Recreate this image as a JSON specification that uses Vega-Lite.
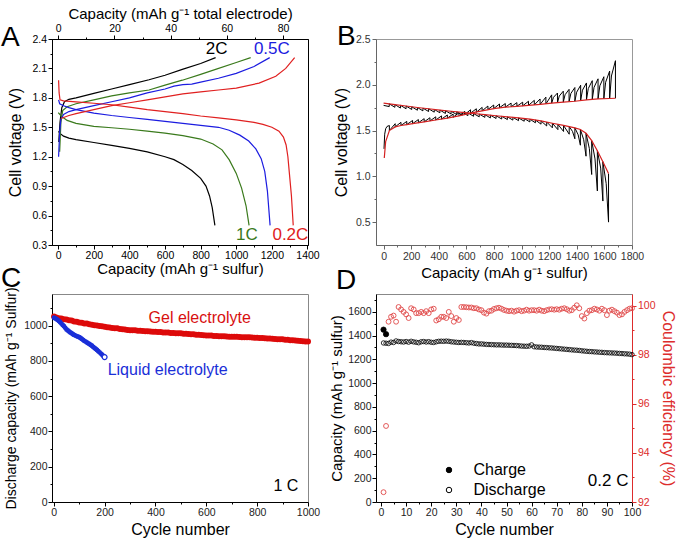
{
"$schema": "https://vega.github.io/schema/vega-lite/v6.json",
"background": "white",
"padding": {"left": 0, "top": 5, "right": 0, "bottom": 0},
"columns": 2,
"spacing": {"row": 49, "column": 68},
"bounds": "flush",
"resolve": {"scale": {"color": "independent", "size": "independent", "fill": "independent"}},
"config": {
 "font": "Liberation Sans",
 "view": {"stroke": null},
 "axis": {"grid": false, "labelFont": "Liberation Sans", "titleFont": "Liberation Sans", "labelFontSize": 10.5, "titleFontSize": 16, "titleFontWeight": "normal", "labelColor": "#000", "titleColor": "#000", "domainColor": "#000", "tickColor": "#000", "tickSize": 4, "labelPadding": 1.5, "labelFlush": false, "labelOverlap": false},
 "title": {"font": "Liberation Sans", "fontSize": 28, "fontWeight": "normal", "anchor": "start", "frame": "group", "offset": 0, "color": "#000"},
 "text": {"font": "Liberation Sans"}
},
"datasets": {
 "a": [
  {"series":"2C-d","rate":"2C","cap":2,"v":1.46},{"series":"2C-d","rate":"2C","cap":8,"v":1.44},{"series":"2C-d","rate":"2C","cap":30,"v":1.41},{"series":"2C-d","rate":"2C","cap":60,"v":1.39},{"series":"2C-d","rate":"2C","cap":100,"v":1.375},{"series":"2C-d","rate":"2C","cap":200,"v":1.345},{"series":"2C-d","rate":"2C","cap":300,"v":1.315},{"series":"2C-d","rate":"2C","cap":400,"v":1.285},{"series":"2C-d","rate":"2C","cap":500,"v":1.25},{"series":"2C-d","rate":"2C","cap":600,"v":1.2},{"series":"2C-d","rate":"2C","cap":650,"v":1.17},{"series":"2C-d","rate":"2C","cap":700,"v":1.12},{"series":"2C-d","rate":"2C","cap":750,"v":1.06},{"series":"2C-d","rate":"2C","cap":800,"v":0.98},{"series":"2C-d","rate":"2C","cap":830,"v":0.9},{"series":"2C-d","rate":"2C","cap":850,"v":0.8},{"series":"2C-d","rate":"2C","cap":865,"v":0.68},{"series":"2C-d","rate":"2C","cap":880,"v":0.5},
  {"series":"2C-c","rate":"2C","cap":3,"v":1.35},{"series":"2C-c","rate":"2C","cap":10,"v":1.55},{"series":"2C-c","rate":"2C","cap":20,"v":1.7},{"series":"2C-c","rate":"2C","cap":35,"v":1.76},{"series":"2C-c","rate":"2C","cap":60,"v":1.785},{"series":"2C-c","rate":"2C","cap":100,"v":1.8},{"series":"2C-c","rate":"2C","cap":200,"v":1.845},{"series":"2C-c","rate":"2C","cap":300,"v":1.89},{"series":"2C-c","rate":"2C","cap":400,"v":1.935},{"series":"2C-c","rate":"2C","cap":510,"v":1.985},{"series":"2C-c","rate":"2C","cap":600,"v":2.03},{"series":"2C-c","rate":"2C","cap":697,"v":2.09},{"series":"2C-c","rate":"2C","cap":800,"v":2.15},{"series":"2C-c","rate":"2C","cap":884,"v":2.21},
  {"series":"1C-d","rate":"1C","cap":0,"v":1.65},{"series":"1C-d","rate":"1C","cap":20,"v":1.61},{"series":"1C-d","rate":"1C","cap":50,"v":1.57},{"series":"1C-d","rate":"1C","cap":100,"v":1.54},{"series":"1C-d","rate":"1C","cap":200,"v":1.51},{"series":"1C-d","rate":"1C","cap":300,"v":1.495},{"series":"1C-d","rate":"1C","cap":400,"v":1.48},{"series":"1C-d","rate":"1C","cap":500,"v":1.46},{"series":"1C-d","rate":"1C","cap":600,"v":1.44},{"series":"1C-d","rate":"1C","cap":700,"v":1.415},{"series":"1C-d","rate":"1C","cap":800,"v":1.38},{"series":"1C-d","rate":"1C","cap":870,"v":1.33},{"series":"1C-d","rate":"1C","cap":920,"v":1.27},{"series":"1C-d","rate":"1C","cap":960,"v":1.17},{"series":"1C-d","rate":"1C","cap":1000,"v":1.03},{"series":"1C-d","rate":"1C","cap":1030,"v":0.88},{"series":"1C-d","rate":"1C","cap":1055,"v":0.7},{"series":"1C-d","rate":"1C","cap":1072,"v":0.5},
  {"series":"1C-c","rate":"1C","cap":8,"v":1.25},{"series":"1C-c","rate":"1C","cap":15,"v":1.55},{"series":"1C-c","rate":"1C","cap":25,"v":1.67},{"series":"1C-c","rate":"1C","cap":50,"v":1.71},{"series":"1C-c","rate":"1C","cap":100,"v":1.74},{"series":"1C-c","rate":"1C","cap":200,"v":1.78},{"series":"1C-c","rate":"1C","cap":300,"v":1.82},{"series":"1C-c","rate":"1C","cap":400,"v":1.85},{"series":"1C-c","rate":"1C","cap":510,"v":1.88},{"series":"1C-c","rate":"1C","cap":600,"v":1.93},{"series":"1C-c","rate":"1C","cap":697,"v":1.98},{"series":"1C-c","rate":"1C","cap":800,"v":2.04},{"series":"1C-c","rate":"1C","cap":884,"v":2.09},{"series":"1C-c","rate":"1C","cap":1000,"v":2.16},{"series":"1C-c","rate":"1C","cap":1081,"v":2.21},
  {"series":"0.5C-d","rate":"0.5C","cap":2,"v":1.78},{"series":"0.5C-d","rate":"0.5C","cap":8,"v":1.74},{"series":"0.5C-d","rate":"0.5C","cap":30,"v":1.72},{"series":"0.5C-d","rate":"0.5C","cap":60,"v":1.7},{"series":"0.5C-d","rate":"0.5C","cap":100,"v":1.68},{"series":"0.5C-d","rate":"0.5C","cap":200,"v":1.645},{"series":"0.5C-d","rate":"0.5C","cap":300,"v":1.62},{"series":"0.5C-d","rate":"0.5C","cap":400,"v":1.6},{"series":"0.5C-d","rate":"0.5C","cap":500,"v":1.58},{"series":"0.5C-d","rate":"0.5C","cap":600,"v":1.56},{"series":"0.5C-d","rate":"0.5C","cap":700,"v":1.54},{"series":"0.5C-d","rate":"0.5C","cap":800,"v":1.52},{"series":"0.5C-d","rate":"0.5C","cap":900,"v":1.5},{"series":"0.5C-d","rate":"0.5C","cap":960,"v":1.47},{"series":"0.5C-d","rate":"0.5C","cap":1020,"v":1.42},{"series":"0.5C-d","rate":"0.5C","cap":1070,"v":1.36},{"series":"0.5C-d","rate":"0.5C","cap":1110,"v":1.28},{"series":"0.5C-d","rate":"0.5C","cap":1140,"v":1.18},{"series":"0.5C-d","rate":"0.5C","cap":1160,"v":1.05},{"series":"0.5C-d","rate":"0.5C","cap":1175,"v":0.85},{"series":"0.5C-d","rate":"0.5C","cap":1190,"v":0.5},
  {"series":"0.5C-c","rate":"0.5C","cap":2,"v":1.2},{"series":"0.5C-c","rate":"0.5C","cap":8,"v":1.45},{"series":"0.5C-c","rate":"0.5C","cap":15,"v":1.58},{"series":"0.5C-c","rate":"0.5C","cap":30,"v":1.63},{"series":"0.5C-c","rate":"0.5C","cap":60,"v":1.66},{"series":"0.5C-c","rate":"0.5C","cap":100,"v":1.68},{"series":"0.5C-c","rate":"0.5C","cap":200,"v":1.72},{"series":"0.5C-c","rate":"0.5C","cap":300,"v":1.76},{"series":"0.5C-c","rate":"0.5C","cap":400,"v":1.8},{"series":"0.5C-c","rate":"0.5C","cap":500,"v":1.85},{"series":"0.5C-c","rate":"0.5C","cap":600,"v":1.89},{"series":"0.5C-c","rate":"0.5C","cap":650,"v":1.92},{"series":"0.5C-c","rate":"0.5C","cap":700,"v":1.935},{"series":"0.5C-c","rate":"0.5C","cap":750,"v":1.94},{"series":"0.5C-c","rate":"0.5C","cap":800,"v":1.96},{"series":"0.5C-c","rate":"0.5C","cap":900,"v":2.0},{"series":"0.5C-c","rate":"0.5C","cap":1000,"v":2.05},{"series":"0.5C-c","rate":"0.5C","cap":1100,"v":2.12},{"series":"0.5C-c","rate":"0.5C","cap":1188,"v":2.21},
  {"series":"0.2C-d","rate":"0.2C","cap":2,"v":1.98},{"series":"0.2C-d","rate":"0.2C","cap":5,"v":1.85},{"series":"0.2C-d","rate":"0.2C","cap":10,"v":1.78},{"series":"0.2C-d","rate":"0.2C","cap":30,"v":1.77},{"series":"0.2C-d","rate":"0.2C","cap":100,"v":1.76},{"series":"0.2C-d","rate":"0.2C","cap":200,"v":1.745},{"series":"0.2C-d","rate":"0.2C","cap":300,"v":1.73},{"series":"0.2C-d","rate":"0.2C","cap":400,"v":1.705},{"series":"0.2C-d","rate":"0.2C","cap":500,"v":1.68},{"series":"0.2C-d","rate":"0.2C","cap":600,"v":1.66},{"series":"0.2C-d","rate":"0.2C","cap":700,"v":1.64},{"series":"0.2C-d","rate":"0.2C","cap":800,"v":1.615},{"series":"0.2C-d","rate":"0.2C","cap":900,"v":1.595},{"series":"0.2C-d","rate":"0.2C","cap":1000,"v":1.575},{"series":"0.2C-d","rate":"0.2C","cap":1100,"v":1.55},{"series":"0.2C-d","rate":"0.2C","cap":1150,"v":1.53},{"series":"0.2C-d","rate":"0.2C","cap":1200,"v":1.5},{"series":"0.2C-d","rate":"0.2C","cap":1240,"v":1.46},{"series":"0.2C-d","rate":"0.2C","cap":1265,"v":1.4},{"series":"0.2C-d","rate":"0.2C","cap":1280,"v":1.32},{"series":"0.2C-d","rate":"0.2C","cap":1290,"v":1.2},{"series":"0.2C-d","rate":"0.2C","cap":1300,"v":1.0},{"series":"0.2C-d","rate":"0.2C","cap":1310,"v":0.8},{"series":"0.2C-d","rate":"0.2C","cap":1320,"v":0.5},
  {"series":"0.2C-c","rate":"0.2C","cap":15,"v":1.59},{"series":"0.2C-c","rate":"0.2C","cap":30,"v":1.6},{"series":"0.2C-c","rate":"0.2C","cap":60,"v":1.62},{"series":"0.2C-c","rate":"0.2C","cap":100,"v":1.64},{"series":"0.2C-c","rate":"0.2C","cap":200,"v":1.68},{"series":"0.2C-c","rate":"0.2C","cap":300,"v":1.72},{"series":"0.2C-c","rate":"0.2C","cap":400,"v":1.75},{"series":"0.2C-c","rate":"0.2C","cap":500,"v":1.78},{"series":"0.2C-c","rate":"0.2C","cap":600,"v":1.81},{"series":"0.2C-c","rate":"0.2C","cap":700,"v":1.84},{"series":"0.2C-c","rate":"0.2C","cap":800,"v":1.86},{"series":"0.2C-c","rate":"0.2C","cap":900,"v":1.88},{"series":"0.2C-c","rate":"0.2C","cap":1000,"v":1.9},{"series":"0.2C-c","rate":"0.2C","cap":1128,"v":1.95},{"series":"0.2C-c","rate":"0.2C","cap":1222,"v":2.02},{"series":"0.2C-c","rate":"0.2C","cap":1278,"v":2.1},{"series":"0.2C-c","rate":"0.2C","cap":1328,"v":2.21}
 ],
 "alab": [
  {"label":"2C","rate":"2C","cap":890,"v":2.3},{"label":"0.5C","rate":"0.5C","cap":1200,"v":2.3},{"label":"1C","rate":"1C","cap":1060,"v":0.405},{"label":"0.2C","rate":"0.2C","cap":1304,"v":0.405}
 ],
 "bk": [
  {"series":"c","cap":3,"v":1.3},{"series":"c","cap":8,"v":1.46},{"series":"c","cap":15,"v":1.52},{"series":"c","cap":25,"v":1.545},{"series":"c","cap":42,"v":1.555},{"series":"c","cap":42,"v":1.5},
  {"series":"c","cap":84,"v":1.575},{"series":"c","cap":84,"v":1.54},
  {"series":"c","cap":126,"v":1.59},{"series":"c","cap":126,"v":1.555},
  {"series":"c","cap":168,"v":1.6},{"series":"c","cap":168,"v":1.565},
  {"series":"c","cap":210,"v":1.61},{"series":"c","cap":210,"v":1.575},
  {"series":"c","cap":252,"v":1.62},{"series":"c","cap":252,"v":1.585},
  {"series":"c","cap":294,"v":1.63},{"series":"c","cap":294,"v":1.595},
  {"series":"c","cap":336,"v":1.64},{"series":"c","cap":336,"v":1.605},
  {"series":"c","cap":378,"v":1.65},{"series":"c","cap":378,"v":1.615},
  {"series":"c","cap":420,"v":1.66},{"series":"c","cap":420,"v":1.625},
  {"series":"c","cap":462,"v":1.67},{"series":"c","cap":462,"v":1.635},
  {"series":"c","cap":504,"v":1.68},{"series":"c","cap":504,"v":1.645},
  {"series":"c","cap":546,"v":1.695},{"series":"c","cap":546,"v":1.66},
  {"series":"c","cap":588,"v":1.71},{"series":"c","cap":588,"v":1.675},
  {"series":"c","cap":630,"v":1.727},{"series":"c","cap":630,"v":1.69},
  {"series":"c","cap":672,"v":1.738},{"series":"c","cap":672,"v":1.7},
  {"series":"c","cap":714,"v":1.753},{"series":"c","cap":714,"v":1.715},
  {"series":"c","cap":756,"v":1.768},{"series":"c","cap":756,"v":1.73},
  {"series":"c","cap":798,"v":1.779},{"series":"c","cap":798,"v":1.74},
  {"series":"c","cap":840,"v":1.79},{"series":"c","cap":840,"v":1.75},
  {"series":"c","cap":882,"v":1.795},{"series":"c","cap":882,"v":1.755},
  {"series":"c","cap":924,"v":1.8},{"series":"c","cap":924,"v":1.76},
  {"series":"c","cap":966,"v":1.805},{"series":"c","cap":966,"v":1.765},
  {"series":"c","cap":1008,"v":1.81},{"series":"c","cap":1008,"v":1.77},
  {"series":"c","cap":1050,"v":1.82},{"series":"c","cap":1050,"v":1.775},
  {"series":"c","cap":1092,"v":1.83},{"series":"c","cap":1092,"v":1.78},
  {"series":"c","cap":1134,"v":1.845},{"series":"c","cap":1134,"v":1.785},
  {"series":"c","cap":1176,"v":1.865},{"series":"c","cap":1176,"v":1.79},
  {"series":"c","cap":1218,"v":1.89},{"series":"c","cap":1218,"v":1.8},
  {"series":"c","cap":1231,"v":1.863},{"series":"c","cap":1260,"v":1.91},{"series":"c","cap":1260,"v":1.805},
  {"series":"c","cap":1273,"v":1.877},{"series":"c","cap":1302,"v":1.93},{"series":"c","cap":1302,"v":1.81},
  {"series":"c","cap":1315,"v":1.891},{"series":"c","cap":1344,"v":1.95},{"series":"c","cap":1344,"v":1.815},
  {"series":"c","cap":1357,"v":1.905},{"series":"c","cap":1386,"v":1.97},{"series":"c","cap":1386,"v":1.82},
  {"series":"c","cap":1399,"v":1.919},{"series":"c","cap":1428,"v":1.995},{"series":"c","cap":1428,"v":1.83},
  {"series":"c","cap":1441,"v":1.941},{"series":"c","cap":1470,"v":2.02},{"series":"c","cap":1470,"v":1.835},
  {"series":"c","cap":1483,"v":1.958},{"series":"c","cap":1512,"v":2.045},{"series":"c","cap":1512,"v":1.84},
  {"series":"c","cap":1525,"v":1.972},{"series":"c","cap":1554,"v":2.065},{"series":"c","cap":1554,"v":1.845},
  {"series":"c","cap":1567,"v":1.989},{"series":"c","cap":1596,"v":2.088},{"series":"c","cap":1596,"v":1.848},
  {"series":"c","cap":1609,"v":2.028},{"series":"c","cap":1638,"v":2.15},{"series":"c","cap":1638,"v":1.85},
  {"series":"c","cap":1651,"v":2.096},{"series":"c","cap":1680,"v":2.263},{"series":"c","cap":1680,"v":1.853},
  {"series":"d","cap":0,"v":1.775},
  {"series":"d","cap":41,"v":1.762},{"series":"d","cap":41,"v":1.792},
  {"series":"d","cap":82,"v":1.754},{"series":"d","cap":82,"v":1.784},
  {"series":"d","cap":122,"v":1.746},{"series":"d","cap":122,"v":1.776},
  {"series":"d","cap":163,"v":1.738},{"series":"d","cap":163,"v":1.768},
  {"series":"d","cap":204,"v":1.73},{"series":"d","cap":204,"v":1.76},
  {"series":"d","cap":245,"v":1.722},{"series":"d","cap":245,"v":1.752},
  {"series":"d","cap":285,"v":1.715},{"series":"d","cap":285,"v":1.745},
  {"series":"d","cap":326,"v":1.708},{"series":"d","cap":326,"v":1.738},
  {"series":"d","cap":367,"v":1.701},{"series":"d","cap":367,"v":1.731},
  {"series":"d","cap":408,"v":1.694},{"series":"d","cap":408,"v":1.724},
  {"series":"d","cap":448,"v":1.687},{"series":"d","cap":448,"v":1.717},
  {"series":"d","cap":489,"v":1.681},{"series":"d","cap":489,"v":1.711},
  {"series":"d","cap":530,"v":1.675},{"series":"d","cap":530,"v":1.705},
  {"series":"d","cap":571,"v":1.669},{"series":"d","cap":571,"v":1.699},
  {"series":"d","cap":611,"v":1.663},{"series":"d","cap":611,"v":1.693},
  {"series":"d","cap":652,"v":1.656},{"series":"d","cap":652,"v":1.686},
  {"series":"d","cap":693,"v":1.65},{"series":"d","cap":693,"v":1.68},
  {"series":"d","cap":734,"v":1.644},{"series":"d","cap":734,"v":1.674},
  {"series":"d","cap":774,"v":1.638},{"series":"d","cap":774,"v":1.668},
  {"series":"d","cap":815,"v":1.632},{"series":"d","cap":815,"v":1.662},
  {"series":"d","cap":856,"v":1.626},{"series":"d","cap":856,"v":1.656},
  {"series":"d","cap":897,"v":1.62},{"series":"d","cap":897,"v":1.65},
  {"series":"d","cap":937,"v":1.614},{"series":"d","cap":937,"v":1.644},
  {"series":"d","cap":978,"v":1.608},{"series":"d","cap":978,"v":1.638},
  {"series":"d","cap":1019,"v":1.602},{"series":"d","cap":1019,"v":1.632},
  {"series":"d","cap":1060,"v":1.594},{"series":"d","cap":1060,"v":1.624},
  {"series":"d","cap":1100,"v":1.585},{"series":"d","cap":1100,"v":1.615},
  {"series":"d","cap":1141,"v":1.57},{"series":"d","cap":1141,"v":1.605},
  {"series":"d","cap":1182,"v":1.55},{"series":"d","cap":1182,"v":1.593},
  {"series":"d","cap":1223,"v":1.53},{"series":"d","cap":1223,"v":1.58},
  {"series":"d","cap":1263,"v":1.51},{"series":"d","cap":1263,"v":1.568},
  {"series":"d","cap":1304,"v":1.49},{"series":"d","cap":1304,"v":1.556},
  {"series":"d","cap":1345,"v":1.46},{"series":"d","cap":1345,"v":1.544},
  {"series":"d","cap":1369,"v":1.49},{"series":"d","cap":1386,"v":1.41},{"series":"d","cap":1386,"v":1.53},
  {"series":"d","cap":1410,"v":1.453},{"series":"d","cap":1426,"v":1.34},{"series":"d","cap":1426,"v":1.512},
  {"series":"d","cap":1450,"v":1.4},{"series":"d","cap":1467,"v":1.22},{"series":"d","cap":1467,"v":1.47},
  {"series":"d","cap":1491,"v":1.303},{"series":"d","cap":1508,"v":1.02},{"series":"d","cap":1508,"v":1.39},
  {"series":"d","cap":1532,"v":1.19},{"series":"d","cap":1549,"v":0.84},{"series":"d","cap":1549,"v":1.28},
  {"series":"d","cap":1573,"v":1.09},{"series":"d","cap":1589,"v":0.73},{"series":"d","cap":1589,"v":1.16},
  {"series":"d","cap":1613,"v":0.92},{"series":"d","cap":1630,"v":0.5},{"series":"d","cap":1630,"v":1.03}
 ],
 "br": [
  {"series":"c","cap":5,"v":1.2},{"series":"c","cap":15,"v":1.38},{"series":"c","cap":42,"v":1.5},{"series":"c","cap":84,"v":1.54},{"series":"c","cap":126,"v":1.555},{"series":"c","cap":168,"v":1.565},{"series":"c","cap":210,"v":1.575},{"series":"c","cap":294,"v":1.595},{"series":"c","cap":378,"v":1.615},{"series":"c","cap":462,"v":1.635},{"series":"c","cap":546,"v":1.66},{"series":"c","cap":630,"v":1.69},{"series":"c","cap":714,"v":1.715},{"series":"c","cap":798,"v":1.74},{"series":"c","cap":882,"v":1.755},{"series":"c","cap":966,"v":1.765},{"series":"c","cap":1050,"v":1.775},{"series":"c","cap":1134,"v":1.785},{"series":"c","cap":1218,"v":1.8},{"series":"c","cap":1302,"v":1.81},{"series":"c","cap":1386,"v":1.82},{"series":"c","cap":1470,"v":1.835},{"series":"c","cap":1554,"v":1.845},{"series":"c","cap":1638,"v":1.85},{"series":"c","cap":1680,"v":1.853},
  {"series":"d","cap":0,"v":1.8},{"series":"d","cap":82,"v":1.784},{"series":"d","cap":163,"v":1.768},{"series":"d","cap":245,"v":1.752},{"series":"d","cap":326,"v":1.738},{"series":"d","cap":408,"v":1.724},{"series":"d","cap":489,"v":1.711},{"series":"d","cap":571,"v":1.699},{"series":"d","cap":652,"v":1.686},{"series":"d","cap":734,"v":1.674},{"series":"d","cap":815,"v":1.662},{"series":"d","cap":897,"v":1.65},{"series":"d","cap":978,"v":1.638},{"series":"d","cap":1060,"v":1.624},{"series":"d","cap":1141,"v":1.605},{"series":"d","cap":1223,"v":1.58},{"series":"d","cap":1304,"v":1.556},{"series":"d","cap":1386,"v":1.53},{"series":"d","cap":1426,"v":1.512},{"series":"d","cap":1467,"v":1.47},{"series":"d","cap":1508,"v":1.39},{"series":"d","cap":1549,"v":1.28},{"series":"d","cap":1589,"v":1.16},{"series":"d","cap":1630,"v":1.03}
 ],
 "cg": [
  {"cyc":1,"cap":1052},{"cyc":10,"cap":1046},{"cyc":20,"cap":1043},{"cyc":30,"cap":1041},{"cyc":40,"cap":1037},{"cyc":50,"cap":1035},{"cyc":60,"cap":1031},{"cyc":70,"cap":1029},{"cyc":80,"cap":1024},{"cyc":90,"cap":1022},{"cyc":100,"cap":1019},{"cyc":110,"cap":1017},{"cyc":120,"cap":1013},{"cyc":130,"cap":1012},{"cyc":140,"cap":1008},{"cyc":150,"cap":1006},{"cyc":160,"cap":1003},{"cyc":170,"cap":1001},{"cyc":180,"cap":998},{"cyc":190,"cap":997},{"cyc":200,"cap":994},{"cyc":210,"cap":991},{"cyc":220,"cap":990},{"cyc":230,"cap":987},{"cyc":240,"cap":985},{"cyc":250,"cap":985},{"cyc":260,"cap":982},{"cyc":270,"cap":980},{"cyc":280,"cap":979},{"cyc":290,"cap":976},{"cyc":300,"cap":975},{"cyc":310,"cap":974},{"cyc":320,"cap":974},{"cyc":330,"cap":972},{"cyc":340,"cap":971},{"cyc":350,"cap":970},{"cyc":360,"cap":969},{"cyc":370,"cap":969},{"cyc":380,"cap":967},{"cyc":390,"cap":966},{"cyc":400,"cap":966},{"cyc":410,"cap":964},{"cyc":420,"cap":964},{"cyc":430,"cap":962},{"cyc":440,"cap":962},{"cyc":450,"cap":961},{"cyc":460,"cap":959},{"cyc":470,"cap":959},{"cyc":480,"cap":958},{"cyc":490,"cap":957},{"cyc":500,"cap":957},{"cyc":510,"cap":955},{"cyc":520,"cap":954},{"cyc":530,"cap":953},{"cyc":540,"cap":952},{"cyc":550,"cap":951},{"cyc":560,"cap":949},{"cyc":570,"cap":949},{"cyc":580,"cap":947},{"cyc":590,"cap":946},{"cyc":600,"cap":945},{"cyc":610,"cap":944},{"cyc":620,"cap":944},{"cyc":630,"cap":942},{"cyc":640,"cap":942},{"cyc":650,"cap":941},{"cyc":660,"cap":940},{"cyc":670,"cap":940},{"cyc":680,"cap":939},{"cyc":690,"cap":938},{"cyc":700,"cap":938},{"cyc":710,"cap":937},{"cyc":720,"cap":937},{"cyc":730,"cap":936},{"cyc":740,"cap":935},{"cyc":750,"cap":935},{"cyc":760,"cap":934},{"cyc":770,"cap":934},{"cyc":780,"cap":933},{"cyc":790,"cap":932},{"cyc":800,"cap":932},{"cyc":810,"cap":931},{"cyc":820,"cap":930},{"cyc":830,"cap":929},{"cyc":840,"cap":928},{"cyc":850,"cap":927},{"cyc":860,"cap":926},{"cyc":870,"cap":925},{"cyc":880,"cap":924},{"cyc":890,"cap":923},{"cyc":900,"cap":923},{"cyc":910,"cap":921},{"cyc":920,"cap":920},{"cyc":930,"cap":918},{"cyc":940,"cap":917},{"cyc":950,"cap":916},{"cyc":960,"cap":915},{"cyc":970,"cap":914},{"cyc":980,"cap":912},{"cyc":990,"cap":911},{"cyc":1000,"cap":910}
 ],
 "cl": [
  {"cyc":1,"cap":1045},{"cyc":5,"cap":1042},{"cyc":10,"cap":1038},{"cyc":15,"cap":1033},{"cyc":20,"cap":1027},{"cyc":25,"cap":1020},{"cyc":30,"cap":1012},{"cyc":35,"cap":1004},{"cyc":40,"cap":997},{"cyc":45,"cap":988},{"cyc":50,"cap":979},{"cyc":55,"cap":973},{"cyc":60,"cap":967},{"cyc":65,"cap":962},{"cyc":70,"cap":957},{"cyc":75,"cap":952},{"cyc":80,"cap":948},{"cyc":85,"cap":944},{"cyc":90,"cap":941},{"cyc":95,"cap":938},{"cyc":100,"cap":935},{"cyc":105,"cap":930},{"cyc":110,"cap":925},{"cyc":115,"cap":920},{"cyc":120,"cap":914},{"cyc":125,"cap":910},{"cyc":130,"cap":905},{"cyc":135,"cap":900},{"cyc":140,"cap":896},{"cyc":145,"cap":891},{"cyc":150,"cap":886},{"cyc":155,"cap":880},{"cyc":160,"cap":874},{"cyc":165,"cap":868},{"cyc":170,"cap":862},{"cyc":175,"cap":855},{"cyc":180,"cap":849},{"cyc":185,"cap":842},{"cyc":190,"cap":835},{"cyc":195,"cap":828},{"cyc":200,"cap":822}
 ],
 "ctext": [
  {"t":"Gel electrolyte","cyc":574,"cap":1045,"col":"gel"},{"t":"Liquid electrolyte","cyc":448,"cap":749,"col":"liq"},{"t":"1 C","cyc":913,"cap":89,"col":"k"}
 ],
 "d": [
  {"cyc":1,"dis":1338,"ce":92.4},{"cyc":2,"dis":1336,"ce":95.1},{"cyc":3,"dis":1334,"ce":99.35},{"cyc":4,"dis":1345,"ce":99.55},{"cyc":5,"dis":1342,"ce":99.6},{"cyc":6,"dis":1355,"ce":99.35},{"cyc":7,"dis":1350,"ce":99.95},{"cyc":8,"dis":1348,"ce":99.85},{"cyc":9,"dis":1346,"ce":99.75},{"cyc":10,"dis":1350,"ce":99.65},
  {"cyc":11,"dis":1345,"ce":99.5},{"cyc":12,"dis":1352,"ce":99.9},{"cyc":13,"dis":1347,"ce":99.85},{"cyc":14,"dis":1344,"ce":99.7},{"cyc":15,"dis":1340,"ce":99.7},{"cyc":16,"dis":1348,"ce":99.75},{"cyc":17,"dis":1350,"ce":99.7},{"cyc":18,"dis":1346,"ce":99.78},{"cyc":19,"dis":1349,"ce":99.7},{"cyc":20,"dis":1344,"ce":99.85},
  {"cyc":21,"dis":1342,"ce":99.88},{"cyc":22,"dis":1348,"ce":99.4},{"cyc":23,"dis":1352,"ce":99.45},{"cyc":24,"dis":1353,"ce":99.55},{"cyc":25,"dis":1352,"ce":99.55},{"cyc":26,"dis":1354,"ce":99.5},{"cyc":27,"dis":1352,"ce":99.75},{"cyc":28,"dis":1348,"ce":99.58},{"cyc":29,"dis":1346,"ce":99.35},{"cyc":30,"dis":1344,"ce":99.5},
  {"cyc":31,"dis":1342,"ce":99.42},{"cyc":32,"dis":1343,"ce":99.95},{"cyc":33,"dis":1342,"ce":99.95},{"cyc":34,"dis":1340,"ce":99.94},{"cyc":35,"dis":1338,"ce":99.93},{"cyc":36,"dis":1341,"ce":99.93},{"cyc":37,"dis":1336,"ce":99.9},{"cyc":38,"dis":1333,"ce":99.9},{"cyc":39,"dis":1330,"ce":99.85},{"cyc":40,"dis":1330,"ce":99.82},
  {"cyc":41,"dis":1328,"ce":99.72},{"cyc":42,"dis":1326,"ce":99.68},{"cyc":43,"dis":1325,"ce":99.78},{"cyc":44,"dis":1324,"ce":99.8},{"cyc":45,"dis":1323,"ce":99.87},{"cyc":46,"dis":1322,"ce":99.9},{"cyc":47,"dis":1322,"ce":99.92},{"cyc":48,"dis":1321,"ce":99.88},{"cyc":49,"dis":1320,"ce":99.83},{"cyc":50,"dis":1320,"ce":99.8},
  {"cyc":51,"dis":1319,"ce":99.78},{"cyc":52,"dis":1318,"ce":99.8},{"cyc":53,"dis":1317,"ce":99.76},{"cyc":54,"dis":1316,"ce":99.8},{"cyc":55,"dis":1314,"ce":99.82},{"cyc":56,"dis":1312,"ce":99.78},{"cyc":57,"dis":1311,"ce":99.8},{"cyc":58,"dis":1310,"ce":99.84},{"cyc":59,"dis":1312,"ce":99.8},{"cyc":60,"dis":1322,"ce":99.82},
  {"cyc":61,"dis":1306,"ce":99.82},{"cyc":62,"dis":1304,"ce":99.8},{"cyc":63,"dis":1303,"ce":99.84},{"cyc":64,"dis":1302,"ce":99.8},{"cyc":65,"dis":1300,"ce":99.78},{"cyc":66,"dis":1299,"ce":99.82},{"cyc":67,"dis":1297,"ce":99.85},{"cyc":68,"dis":1296,"ce":99.86},{"cyc":69,"dis":1294,"ce":99.84},{"cyc":70,"dis":1292,"ce":99.86},
  {"cyc":71,"dis":1290,"ce":99.84},{"cyc":72,"dis":1288,"ce":99.88},{"cyc":73,"dis":1286,"ce":99.9},{"cyc":74,"dis":1284,"ce":99.86},{"cyc":75,"dis":1282,"ce":99.8},{"cyc":76,"dis":1280,"ce":99.82},{"cyc":77,"dis":1278,"ce":99.92},{"cyc":78,"dis":1277,"ce":100.02},{"cyc":79,"dis":1275,"ce":99.9},{"cyc":80,"dis":1272,"ce":99.58},
  {"cyc":81,"dis":1270,"ce":99.48},{"cyc":82,"dis":1268,"ce":99.7},{"cyc":83,"dis":1266,"ce":99.8},{"cyc":84,"dis":1265,"ce":99.82},{"cyc":85,"dis":1263,"ce":99.88},{"cyc":86,"dis":1262,"ce":99.85},{"cyc":87,"dis":1260,"ce":99.8},{"cyc":88,"dis":1259,"ce":99.88},{"cyc":89,"dis":1257,"ce":99.82},{"cyc":90,"dis":1256,"ce":99.62},
  {"cyc":91,"dis":1255,"ce":99.8},{"cyc":92,"dis":1254,"ce":99.84},{"cyc":93,"dis":1253,"ce":99.78},{"cyc":94,"dis":1252,"ce":99.72},{"cyc":95,"dis":1250,"ce":99.62},{"cyc":96,"dis":1249,"ce":99.65},{"cyc":97,"dis":1247,"ce":99.75},{"cyc":98,"dis":1246,"ce":99.82},{"cyc":99,"dis":1244,"ce":99.88},{"cyc":100,"dis":1240,"ce":99.9}
 ],
 "dch": [{"cyc":1,"dis":1450},{"cyc":2,"dis":1412}],
 "dtext": [{"t":"0.2 C","cyc":90.5,"dis":176}]
},
"concat": [
 {
  "width": 256, "height": 206,
  "title": {"text": "A", "dx": -51, "dy": 50},
  "view": {"stroke": "#000"},
  "layer": [
   {"data": {"name": "a"}, "mark": {"type": "line", "strokeWidth": 1.2},
    "encoding": {
     "x": {"field": "cap", "type": "quantitative", "scale": {"domain": [-35, 1403], "nice": false, "zero": false},
           "axis": {"orient": "bottom", "values": [0,100,200,300,400,500,600,700,800,900,1000,1100,1200,1300,1400], "labelExpr": "datum.value % 200 === 0 ? datum.label : ''", "tickSize": {"condition": {"test": "datum.value % 200 === 0", "value": 4}, "value": 2}, "format": "d", "labelOverlap": false, "title": "Capacity (mAh g⁻¹ sulfur)", "titleFontSize": 15, "labelPadding": 1, "titlePadding": 1}},
     "y": {"field": "v", "type": "quantitative", "scale": {"domain": [0.3, 2.4], "nice": false, "zero": false},
           "axis": {"values": [0.3,0.45,0.6,0.75,0.9,1.05,1.2,1.35,1.5,1.65,1.8,1.95,2.1,2.25,2.4], "labelExpr": "round(datum.value*100) % 30 === 0 ? datum.label : ''", "tickSize": {"condition": {"test": "round(datum.value*100) % 30 === 0", "value": 4}, "value": 2}, "format": ".1f", "labelOverlap": false, "title": "Cell voltage (V)", "titlePadding": 8}},
     "color": {"field": "rate", "type": "nominal", "scale": {"domain": ["2C","1C","0.5C","0.2C"], "range": ["#000000","#3a7a1c","#1c1ce0","#e02020"]}, "legend": null},
     "detail": {"field": "series", "type": "nominal"}
    }},
   {"data": {"name": "alab"}, "mark": {"type": "text", "fontSize": 17},
    "encoding": {
     "x": {"field": "cap", "type": "quantitative", "scale": {"domain": [-35, 1403], "nice": false, "zero": false}, "axis": null},
     "y": {"field": "v", "type": "quantitative", "scale": {"domain": [0.3, 2.4], "nice": false, "zero": false},
           "axis": {"values": [0.3,0.45,0.6,0.75,0.9,1.05,1.2,1.35,1.5,1.65,1.8,1.95,2.1,2.25,2.4], "labelExpr": "round(datum.value*100) % 30 === 0 ? datum.label : ''", "tickSize": {"condition": {"test": "round(datum.value*100) % 30 === 0", "value": 4}, "value": 2}, "format": ".1f", "labelOverlap": false, "title": "Cell voltage (V)", "titlePadding": 8}},
     "text": {"field": "label"},
     "color": {"field": "rate", "type": "nominal", "legend": null}}},
   {"data": {"values": [{"e": 0}]}, "mark": {"type": "point", "opacity": 0},
    "encoding": {"x": {"field": "e", "type": "quantitative", "scale": {"domain": [-2.24, 88.9], "nice": false, "zero": false},
      "axis": {"orient": "top", "values": [0,10,20,30,40,50,60,70,80], "labelExpr": "datum.value % 20 === 0 ? datum.label : ''", "tickSize": {"condition": {"test": "datum.value % 20 === 0", "value": 4}, "value": 2}, "format": "d", "labelOverlap": false, "title": "Capacity (mAh g⁻¹ total electrode)", "titleFontSize": 15, "labelPadding": 2, "titlePadding": 2}}}}
  ],
  "resolve": {"scale": {"x": "independent"}, "axis": {"x": "independent"}}
 },
 {
  "width": 256, "height": 206,
  "title": {"text": "B", "dx": -39, "dy": 21},
  "view": {"stroke": "#999"},
  "encoding": {
   "x": {"field": "cap", "type": "quantitative", "scale": {"domain": [-55, 1800], "nice": false, "zero": false},
         "axis": {"values": [0,100,200,300,400,500,600,700,800,900,1000,1100,1200,1300,1400,1500,1600,1700,1800], "labelExpr": "datum.value % 200 === 0 ? datum.label : ''", "tickSize": {"condition": {"test": "datum.value % 200 === 0", "value": 4}, "value": 2}, "format": "d", "labelOverlap": false, "title": "Capacity (mAh g⁻¹ sulfur)", "titleFontSize": 15, "labelColor": "#333", "domainColor": "#666", "tickColor": "#666", "labelPadding": 2, "titlePadding": 4}},
   "y": {"field": "v", "type": "quantitative", "scale": {"domain": [0.25, 2.5], "nice": false, "zero": false},
         "axis": {"values": [0.5,0.75,1.0,1.25,1.5,1.75,2.0,2.25,2.5], "labelExpr": "round(datum.value*100) % 50 === 0 ? datum.label : ''", "tickSize": {"condition": {"test": "round(datum.value*100) % 50 === 0", "value": 4}, "value": 2}, "format": ".1f", "labelOverlap": false, "title": "Cell voltage (V)", "labelColor": "#333", "domainColor": "#666", "tickColor": "#666", "labelPadding": 2, "titlePadding": 6}}
  },
  "layer": [
   {"data": {"name": "bk"}, "mark": {"type": "line", "color": "#000", "strokeWidth": 1}, "encoding": {"detail": {"field": "series", "type": "nominal"}, "order": {"value": null}}},
   {"data": {"name": "br"}, "mark": {"type": "line", "color": "#d42020", "strokeWidth": 1.2}, "encoding": {"detail": {"field": "series", "type": "nominal"}, "order": {"value": null}}}
  ]
 },
 {
  "width": 256, "height": 208,
  "title": {"text": "C", "dx": -51, "dy": 10},
  "view": {"stroke": "#888"},
  "encoding": {
   "x": {"field": "cyc", "type": "quantitative", "scale": {"domain": [-7, 1000], "nice": false, "zero": false},
         "axis": {"values": [0,100,200,300,400,500,600,700,800,900,1000], "labelExpr": "datum.value % 200 === 0 ? datum.label : ''", "tickSize": {"condition": {"test": "datum.value % 200 === 0", "value": 4}, "value": 2}, "format": "d", "labelOverlap": false, "title": "Cycle number", "labelColor": "#222", "labelPadding": 1.5, "titlePadding": 3}},
   "y": {"field": "cap", "type": "quantitative", "scale": {"domain": [0, 1180], "nice": false, "zero": false},
         "axis": {"values": [0,100,200,300,400,500,600,700,800,900,1000,1100], "labelExpr": "datum.value % 200 === 0 ? datum.label : ''", "tickSize": {"condition": {"test": "datum.value % 200 === 0", "value": 4}, "value": 2}, "format": "d", "labelOverlap": false, "title": "Discharge capacity (mAh g⁻¹ Sulfur)", "titleFontSize": 14, "labelColor": "#222", "labelPadding": 1, "titlePadding": 5}}
  },
  "layer": [
   {"data": {"name": "cg"}, "mark": {"type": "circle", "color": "#dd0a0a", "size": 36, "opacity": 1}},
   {"data": {"name": "cl"}, "mark": {"type": "circle", "color": "#1a2fd8", "size": 24, "opacity": 1}},
   {"data": {"name": "cl"}, "transform": [{"filter": "datum.cyc == 200"}], "mark": {"type": "point", "shape": "circle", "filled": true, "fill": "white", "stroke": "#1a2fd8", "strokeWidth": 1.2, "size": 24, "opacity": 1}},
   {"data": {"name": "ctext"}, "mark": {"type": "text"},
    "encoding": {"text": {"field": "t"},
     "color": {"field": "col", "type": "nominal", "scale": {"domain": ["gel","liq","k"], "range": ["#d81010","#1a2fd8","#000000"]}, "legend": null},
     "size": {"field": "col", "type": "nominal", "scale": {"domain": ["gel","liq","k"], "range": [16,16,21]}, "legend": null}}}
  ]
 },
 {
  "width": 256, "height": 208,
  "title": {"text": "D", "dx": -40, "dy": 5},
  "view": {"stroke": "#888"},
  "encoding": {
   "x": {"field": "cyc", "type": "quantitative", "scale": {"domain": [-2, 100], "nice": false, "zero": false},
         "axis": {"values": [0,5,10,15,20,25,30,35,40,45,50,55,60,65,70,75,80,85,90,95,100], "labelExpr": "datum.value % 10 === 0 ? datum.label : ''", "tickSize": {"condition": {"test": "datum.value % 10 === 0", "value": 4}, "value": 2}, "format": "d", "labelOverlap": false, "title": "Cycle number", "labelColor": "#222", "labelPadding": 1.5, "titlePadding": 3}}
  },
  "layer": [
   {"data": {"name": "d"}, "mark": {"type": "point", "shape": "circle", "stroke": "#000", "strokeWidth": 0.8, "size": 20, "opacity": 1},
    "encoding": {
     "y": {"field": "dis", "type": "quantitative", "scale": {"domain": [0, 1750], "nice": false, "zero": false},
           "axis": {"orient": "left", "values": [0,100,200,300,400,500,600,700,800,900,1000,1100,1200,1300,1400,1500,1600,1700], "labelExpr": "datum.value % 200 === 0 ? datum.label : ''", "tickSize": {"condition": {"test": "datum.value % 200 === 0", "value": 4}, "value": 2}, "format": "d", "labelOverlap": false, "title": "Capacity (mAh g⁻¹ sulfur)", "titleFontSize": 15, "labelColor": "#222", "labelPadding": 1, "titlePadding": 3}},
     "fill": {"datum": "Discharge", "type": "nominal", "scale": {"domain": ["Charge","Discharge"], "range": ["#000000","transparent"]},
              "legend": {"title": null, "orient": "none", "legendX": 65, "legendY": 168, "labelFontSize": 16, "labelFont": "Liberation Sans", "symbolSize": 30, "symbolType": "circle", "symbolStrokeColor": "#000", "symbolStrokeWidth": 1, "labelOffset": 16.5, "rowPadding": 4, "padding": 0}}
    }},
   {"data": {"name": "dch"}, "mark": {"type": "point", "shape": "circle", "stroke": "#000", "strokeWidth": 0.8, "size": 28, "opacity": 1},
    "encoding": {
     "y": {"field": "dis", "type": "quantitative", "scale": {"domain": [0, 1750], "nice": false, "zero": false}, "axis": null},
     "fill": {"datum": "Charge", "type": "nominal"}}},
   {"data": {"name": "dtext"}, "mark": {"type": "text", "fontSize": 17},
    "encoding": {
     "y": {"field": "dis", "type": "quantitative", "scale": {"domain": [0, 1750], "nice": false, "zero": false}, "axis": null},
     "text": {"field": "t"}}},
   {"data": {"name": "d"}, "mark": {"type": "point", "shape": "circle", "stroke": "#e04848", "strokeWidth": 0.9, "size": 24, "opacity": 1},
    "encoding": {
     "y": {"field": "ce", "type": "quantitative", "scale": {"domain": [92, 100.48], "nice": false, "zero": false},
           "axis": {"orient": "right", "values": [92,93,94,95,96,97,98,99,100], "labelExpr": "datum.value % 2 === 0 ? datum.label : ''", "tickSize": {"condition": {"test": "datum.value % 2 === 0", "value": 4}, "value": 2}, "format": "d", "labelOverlap": false, "title": "Coulombic efficiency (%)", "labelColor": "#dd2c2c", "tickColor": "#dd2c2c", "domainColor": "#dd2c2c", "titleColor": "#dd2c2c", "labelPadding": 1.5, "titlePadding": 4}}
    }}
  ],
  "resolve": {"scale": {"y": "independent"}, "axis": {"y": "independent"}}
 }
]
}
